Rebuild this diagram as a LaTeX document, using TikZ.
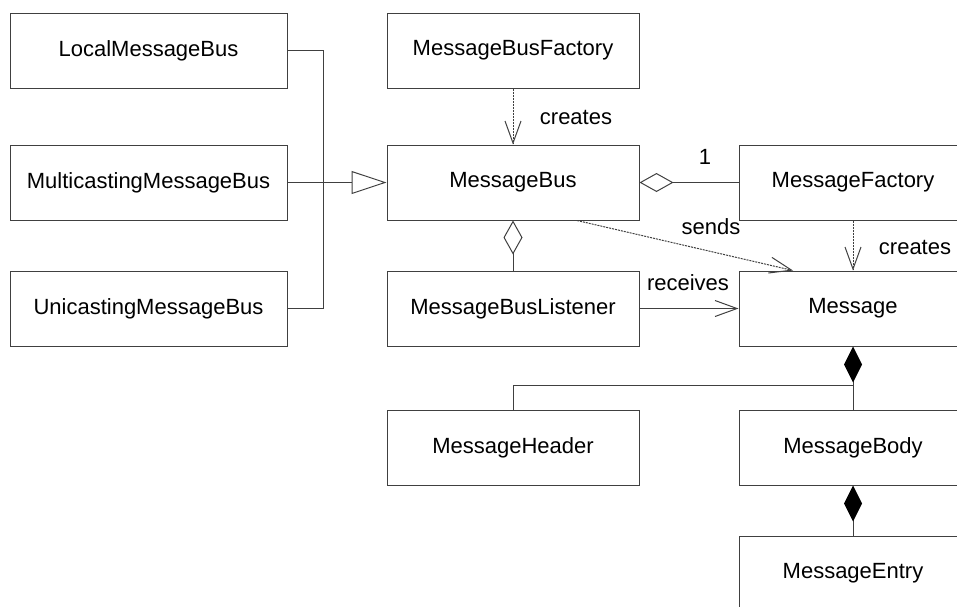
\documentclass[tikz,border=0pt]{standalone}
\usepackage{fontspec}
\setmainfont{Liberation Sans}
\usetikzlibrary{arrows.meta,calc}

\tikzset{
  cls/.style={draw=black!75, line width=1pt, fill=white, minimum height=75pt,
    inner sep=0pt, font=\fontsize{22}{26}\selectfont},
  clsleft/.style={cls, minimum width=277pt},
  clsmid/.style={cls, minimum width=252pt},
  clsright/.style={cls, minimum width=228pt},
  lnk/.style={draw=black!75, line width=1pt},
  dep/.style={lnk, dash pattern=on 2pt off 1pt,
    -{Straight Barb[length=22pt,width=16pt,line width=1pt]}},
  assoc/.style={lnk, -{Straight Barb[length=22pt,width=16pt,line width=1pt]}},
  gen/.style={lnk, -{Triangle[open,length=35pt,width=23pt,line width=1pt]}},
  aggr/.style={lnk, {Diamond[open,length=34pt,width=19pt,line width=1pt]}-},
  comp/.style={lnk, {Diamond[length=36pt,width=18pt,line width=1pt,fill=black,color=black]}-},
  lbl/.style={font=\fontsize{22}{26}\selectfont, inner sep=0pt},
}

\begin{document}
\begin{tikzpicture}[x=1pt, y=-1pt]
  \useasboundingbox (0,0) rectangle (957,606);

  % classes
  \node[clsleft]  (local) at (148.5, 50.5)  {LocalMessageBus};
  \node[clsleft]  (multi) at (148.5, 182.5) {MulticastingMessageBus};
  \node[clsleft]  (uni)   at (148.5, 308.5) {UnicastingMessageBus};
  \node[clsmid]   (mbf)   at (513, 50.5)    {MessageBusFactory};
  \node[clsmid]   (mb)    at (513, 182.5)   {MessageBus};
  \node[clsmid]   (mbl)   at (513, 308.5)   {MessageBusListener};
  \node[clsmid]   (hdr)   at (513, 447.5)   {MessageHeader};
  \node[clsright] (mf)    at (853, 182.5)   {MessageFactory};
  \node[clsright] (msg)   at (853, 308.5)   {Message};
  \node[clsright] (body)  at (853, 447.5)   {MessageBody};
  \node[clsright] (entry) at (853, 573.5)   {MessageEntry};

  % junctions
  \coordinate (spine) at (323, 182.5);
  \coordinate (branch) at (853, 385);

  % generalization of the three buses
  \draw[lnk] (local.east) -- (local.east -| spine) |- (uni.east);
  \draw[gen] (multi.east) -- (mb.west);

  % factory creates bus
  \draw[dep] (mbf.south) -- (mb.north);
  \node[lbl] (lcreates1) at (576, 117) {creates};

  % bus holds one message factory
  \draw[aggr] (mb.east) -- (mf.west);
  \node[lbl] (lone) at (705, 157) {1};

  % bus holds listeners
  \draw[aggr] (mb.south) -- (mbl.north);

  % bus sends messages
  \draw[dep] ($(mb.south)+(64,0)$) -- ($(msg.north)+(-60,0)$);
  \node[lbl] (lsends) at (711, 227) {sends};

  % message factory creates messages
  \draw[dep] (mf.south) -- (msg.north);
  \node[lbl] (lcreates2) at (915, 247) {creates};

  % listener receives messages
  \draw[assoc] (mbl.east) -- (msg.west);
  \node[lbl] (lreceives) at (688, 283) {receives};

  % message composition
  \draw[comp] (msg.south) -- (body.north);
  \draw[lnk] (hdr.north) |- (branch);
  \draw[comp] (body.south) -- (entry.north);
\end{tikzpicture}
\end{document}
